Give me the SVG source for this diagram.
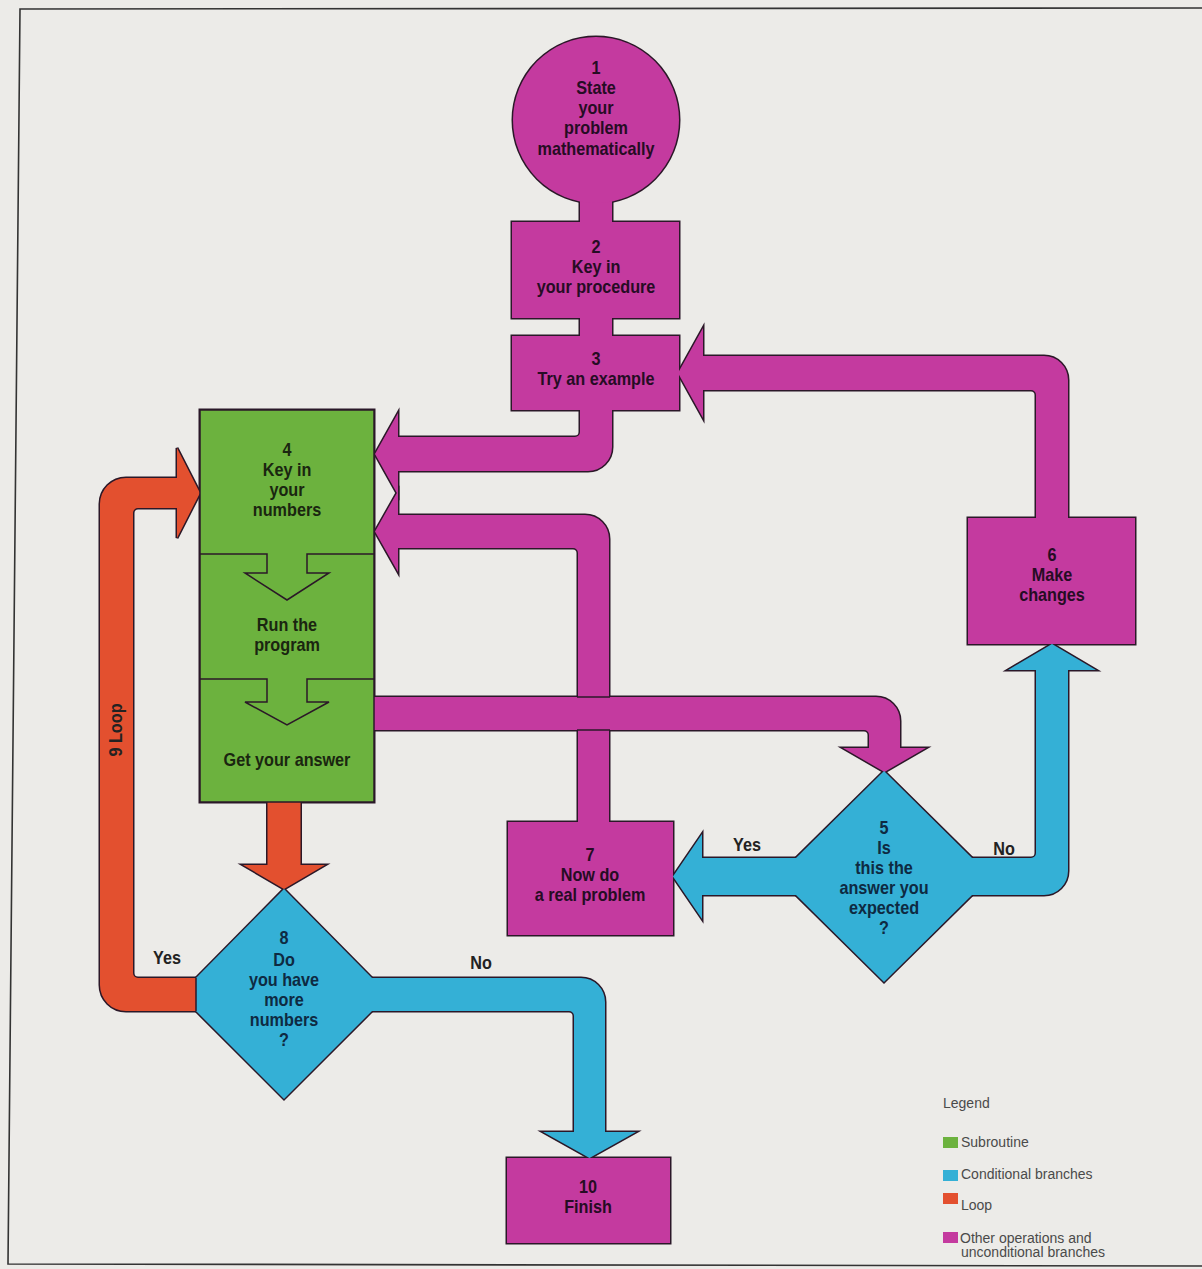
<svg xmlns="http://www.w3.org/2000/svg" xmlns:xlink="http://www.w3.org/1999/xlink" width="1202" height="1269" viewBox="0 0 1202 1269">
<style>
.m{fill:#c43a9f}
.g{fill:#6cb23e}
.b{fill:#34b0d6}
.r{fill:#e3502f}
.ol{fill:none;stroke:#2b1828;stroke-width:3;stroke-linejoin:miter}
.ln{fill:none;stroke:#2b1828;stroke-width:1.5}
.t{font-family:"Liberation Sans",Arial,sans-serif;font-weight:bold;font-size:18px;text-anchor:middle}
.tm{fill:#260c24}
.tg{fill:#1a2610}
.tb{fill:#0e2a42}
.lab{font-family:"Liberation Sans",Arial,sans-serif;font-weight:bold;font-size:18px;fill:#222;text-anchor:middle}
.leg{font-family:"Liberation Sans",Arial,sans-serif;font-size:14px;fill:#4a4a4a}
</style>
<defs>
<circle id="s-n1" cx="596" cy="120" r="83"/>
<rect id="s-n2" x="512" y="222" width="167" height="96"/>
<rect id="s-n3" x="512" y="336" width="167" height="74"/>
<rect id="s-n4" x="200" y="410" width="174" height="392"/>
<polygon id="s-n5" points="884,771 972,858 972,895 884,982 796,895 796,858"/>
<rect id="s-n6" x="968" y="518" width="167" height="126"/>
<rect id="s-n7" x="508" y="822" width="165" height="113"/>
<polygon id="s-n8" points="284,889 372,978 372,1011 284,1099 196,1011 196,978"/>
<rect id="s-n10" x="507" y="1158" width="163" height="85"/>
<rect id="s-c12" x="580" y="190" width="32" height="36"/>
<rect id="s-c23" x="580" y="314" width="32" height="26"/>
<path id="s-c34" d="M580 405 L612 405 L612 447 A24 24 0 0 1 588 471 L398 471 L398 495 L375 454 L398 413 L398 437 L575 437 A5 5 0 0 0 580 432 Z"/>
<path id="s-c74" d="M375 531.5 L398 491 L398 515 L585 515 A24 24 0 0 1 609 539 L609 826 L578 826 L578 553 A5 5 0 0 0 573 548 L398 548 L398 572 Z"/>
<path id="s-c45" d="M370 697 L876 697 A24 24 0 0 1 900 721 L900 748 L926 748 L884.5 772 L843 748 L869 748 L869 735 A5 5 0 0 0 864 730 L370 730 Z"/>
<path id="s-c57" d="M800 858 L702 858 L702 834 L673 876.5 L702 919 L702 895 L800 895 Z"/>
<path id="s-c56" d="M968 858 L1031 858 A5 5 0 0 0 1036 853 L1036 670 L1008 670 L1052 644 L1096 670 L1068 670 L1068 871 A24 24 0 0 1 1044 895 L968 895 Z"/>
<path id="s-c63" d="M1036 522 L1036 395 A5 5 0 0 0 1031 390 L703 390 L703 418 L678 373 L703 328 L703 356 L1044 356 A24 24 0 0 1 1068 380 L1068 522 Z"/>
<path id="s-c48" d="M267.5 798 L300.5 798 L300.5 865 L325 865 L284 889 L243 865 L267.5 865 Z"/>
<path id="s-c84" d="M200 978 L138 978 A5 5 0 0 1 133 973 L133 513 A5 5 0 0 1 138 508 L177 508 L177 538 L200 493 L177 448 L177 478 L126 478 A26 26 0 0 0 100 504 L100 985 A26 26 0 0 0 126 1011 L200 1011 Z"/>
<path id="s-c810" d="M368 978 L581 978 A24 24 0 0 1 605 1002 L605 1132 L636 1132 L589.5 1158 L543 1132 L574 1132 L574 1016 A5 5 0 0 0 569 1011 L368 1011 Z"/>
</defs>
<rect x="0" y="0" width="1202" height="1269" fill="#ecebe8"/>
<path d="M1202 8 L20 9 L8 1264 L1202 1266" fill="none" stroke="#333" stroke-width="1.6"/>

<g id="outlines" class="ol">
<use href="#s-c12"/><use href="#s-c23"/><use href="#s-c34"/><use href="#s-c74"/><use href="#s-c45"/><use href="#s-c57"/><use href="#s-c56"/><use href="#s-c63"/><use href="#s-c48"/><use href="#s-c84"/><use href="#s-c810"/>
<use href="#s-n1"/><use href="#s-n2"/><use href="#s-n3"/><use href="#s-n4"/><use href="#s-n5"/><use href="#s-n6"/><use href="#s-n7"/><use href="#s-n8"/><use href="#s-n10"/>
</g>

<g id="connectors">
<use href="#s-c12" class="m"/>
<use href="#s-c23" class="m"/>
<use href="#s-c34" class="m"/>
<use href="#s-c74" class="m"/>
<use href="#s-c45" class="m"/>
<line class="ln" x1="577" y1="697" x2="610" y2="697"/>
<line class="ln" x1="577" y1="730" x2="610" y2="730"/>
<use href="#s-c57" class="b"/>
<use href="#s-c56" class="b"/>
<use href="#s-c63" class="m"/>
<use href="#s-c48" class="r"/>
<use href="#s-c84" class="r"/>
<use href="#s-c810" class="b"/>
<text class="lab" transform="translate(747 0) scale(0.9 1)" x="0" y="851">Yes</text>
<text class="lab" transform="translate(1004 0) scale(0.9 1)" x="0" y="855">No</text>
<text class="lab" transform="translate(167 0) scale(0.9 1)" x="0" y="964">Yes</text>
<text class="lab" transform="translate(481 0) scale(0.9 1)" x="0" y="969">No</text>
<text class="lab" transform="translate(122 730) rotate(-90) scale(0.9 1)" x="0" y="0">9 Loop</text>
</g>

<g id="node-1">
<use href="#s-n1" class="m"/>
<text class="t tm" transform="translate(596 0) scale(0.9 1)"><tspan x="0" y="74">1</tspan><tspan x="0" y="94">State</tspan><tspan x="0" y="114">your</tspan><tspan x="0" y="134">problem</tspan><tspan x="0" y="155">mathematically</tspan></text>
</g>
<g id="node-2">
<use href="#s-n2" class="m"/>
<text class="t tm" transform="translate(596 0) scale(0.9 1)"><tspan x="0" y="253">2</tspan><tspan x="0" y="273">Key in</tspan><tspan x="0" y="293">your procedure</tspan></text>
</g>
<g id="node-3">
<use href="#s-n3" class="m"/>
<text class="t tm" transform="translate(596 0) scale(0.9 1)"><tspan x="0" y="365">3</tspan><tspan x="0" y="385">Try an example</tspan></text>
</g>
<g id="node-4">
<use href="#s-n4" class="g" stroke="#2b1828" stroke-width="1.5"/>
<polyline class="ln" points="200,554 267,554 267,573 245,573 287,600 329,573 307,573 307,554 374,554"/>
<polyline class="ln" points="200,679 267,679 267,702 245,702 287,725 329,702 307,702 307,679 374,679"/>
<text class="t tg" transform="translate(287 0) scale(0.9 1)"><tspan x="0" y="456">4</tspan><tspan x="0" y="476">Key in</tspan><tspan x="0" y="496">your</tspan><tspan x="0" y="516">numbers</tspan><tspan x="0" y="631">Run the</tspan><tspan x="0" y="651">program</tspan><tspan x="0" y="766">Get your answer</tspan></text>
</g>
<g id="node-5">
<use href="#s-n5" class="b"/>
<text class="t tb" transform="translate(884 0) scale(0.9 1)"><tspan x="0" y="834">5</tspan><tspan x="0" y="854">Is</tspan><tspan x="0" y="874">this the</tspan><tspan x="0" y="894">answer you</tspan><tspan x="0" y="914">expected</tspan><tspan x="0" y="934">?</tspan></text>
</g>
<g id="node-6">
<use href="#s-n6" class="m"/>
<text class="t tm" transform="translate(1052 0) scale(0.9 1)"><tspan x="0" y="561">6</tspan><tspan x="0" y="581">Make</tspan><tspan x="0" y="601">changes</tspan></text>
</g>
<g id="node-7">
<use href="#s-n7" class="m"/>
<text class="t tm" transform="translate(590 0) scale(0.9 1)"><tspan x="0" y="861">7</tspan><tspan x="0" y="881">Now do</tspan><tspan x="0" y="901">a real problem</tspan></text>
</g>
<g id="node-8">
<use href="#s-n8" class="b"/>
<line class="ln" x1="196" y1="978" x2="196" y2="1011"/>
<text class="t tb" transform="translate(284 0) scale(0.9 1)"><tspan x="0" y="944">8</tspan><tspan x="0" y="966">Do</tspan><tspan x="0" y="986">you have</tspan><tspan x="0" y="1006">more</tspan><tspan x="0" y="1026">numbers</tspan><tspan x="0" y="1046">?</tspan></text>
</g>
<g id="node-10">
<use href="#s-n10" class="m"/>
<text class="t tm" transform="translate(588 0) scale(0.9 1)"><tspan x="0" y="1193">10</tspan><tspan x="0" y="1213">Finish</tspan></text>
</g>

<g id="legend">
<text class="leg" x="943" y="1108">Legend</text>
<rect x="943" y="1137" width="15" height="11" class="g"/>
<text class="leg" x="961" y="1147">Subroutine</text>
<rect x="943" y="1170" width="15" height="11" class="b"/>
<text class="leg" x="961" y="1179">Conditional branches</text>
<rect x="943" y="1193" width="15" height="11" class="r"/>
<text class="leg" x="961" y="1210">Loop</text>
<rect x="943" y="1232" width="15" height="11" class="m"/>
<text class="leg"><tspan x="960" y="1243">Other operations and</tspan><tspan x="961" y="1257">unconditional branches</tspan></text>
</g>
</svg>
